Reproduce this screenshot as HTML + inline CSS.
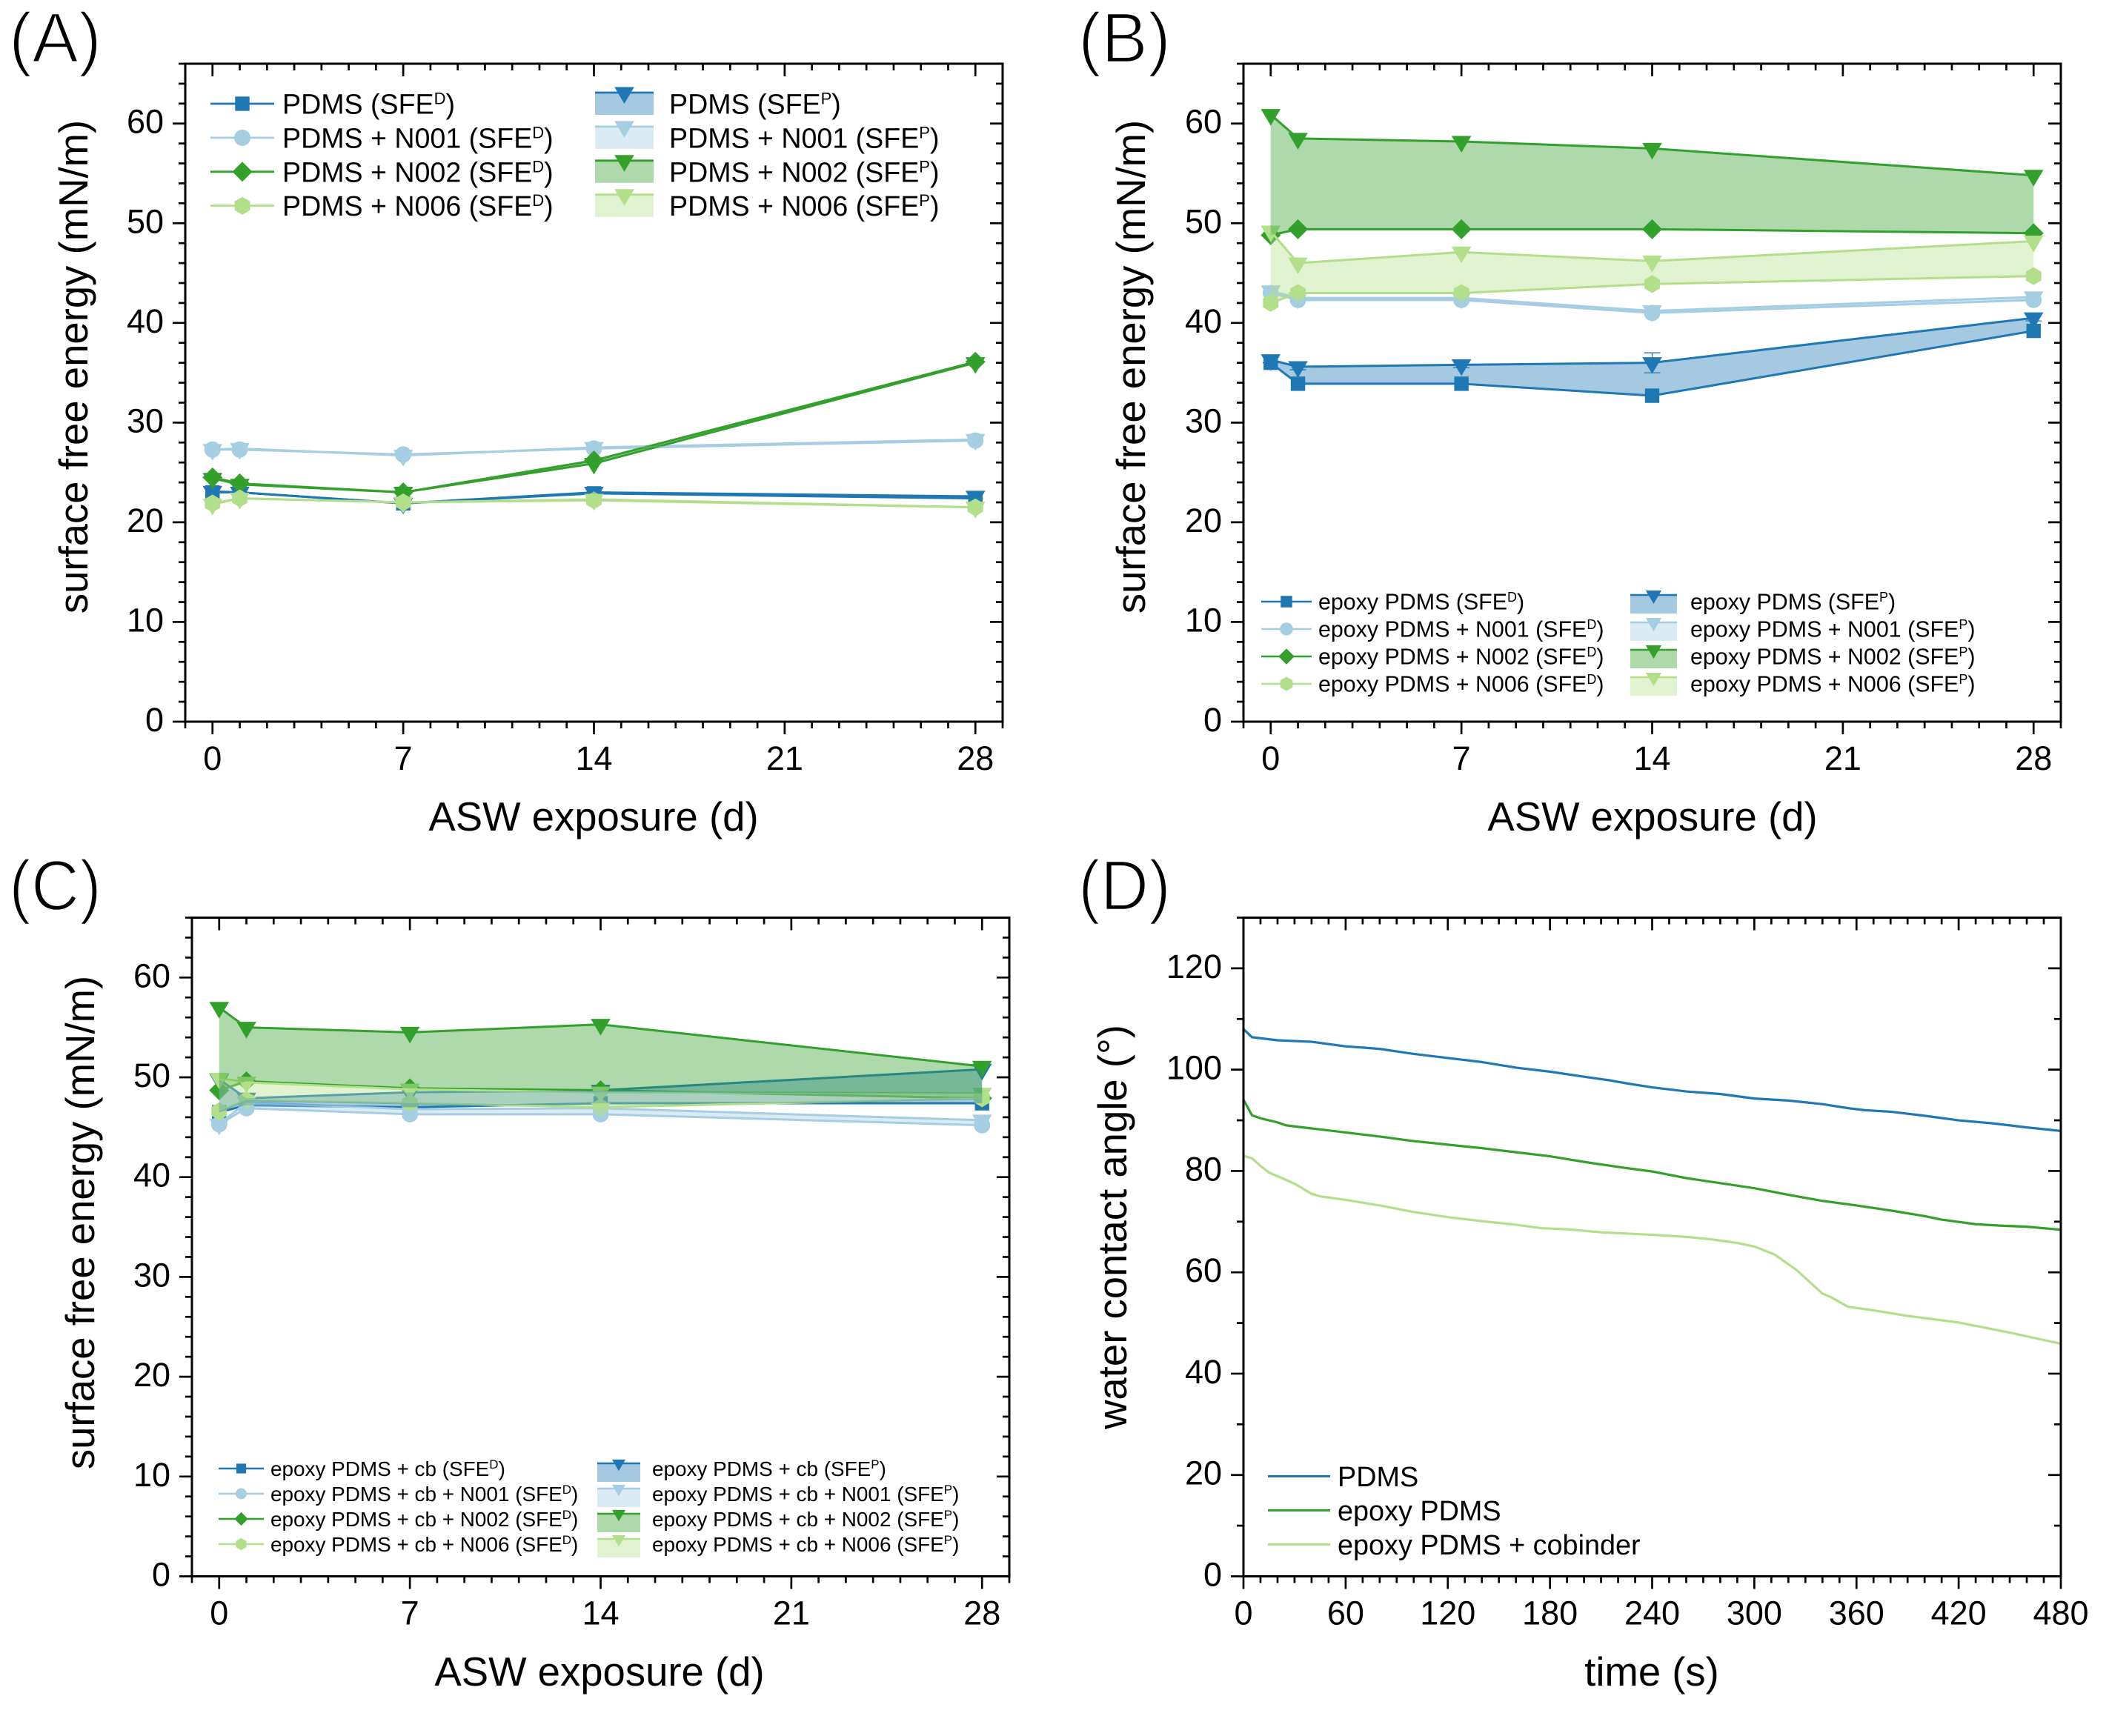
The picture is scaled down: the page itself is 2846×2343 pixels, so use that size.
<!DOCTYPE html>
<html lang="en">
<head>
<meta charset="utf-8">
<title>Surface free energy and water contact angle</title>
<style>
html,body{margin:0;padding:0;background:#fff}
svg{display:block}
text{font-family:"Liberation Sans",Arial,sans-serif;fill:#000}
.panel-letter{font-size:96px;stroke:#fff;stroke-width:2.4px}
.axis-title{font-size:54.5px;text-anchor:middle}
.tick{font-size:45px}
.la{font-size:37.6px}
.lb{font-size:30.4px}
.lc{font-size:27.9px}
.ld{font-size:37.8px}
</style>
</head>
<body>
<svg id="figure" xmlns="http://www.w3.org/2000/svg" width="2846" height="2343" viewBox="0 0 2846 2343">
<rect x="0" y="0" width="2846" height="2343" fill="#fff"/>
<g id="plots"></g>

<text class="panel-letter" x="12" y="84" textLength="125" lengthAdjust="spacingAndGlyphs">(A)</text>
<text class="panel-letter" x="1455" y="84" textLength="125" lengthAdjust="spacingAndGlyphs">(B)</text>
<text class="panel-letter" x="12" y="1228" textLength="125" lengthAdjust="spacingAndGlyphs">(C)</text>
<text class="panel-letter" x="1455" y="1228" textLength="125" lengthAdjust="spacingAndGlyphs">(D)</text>

<text class="axis-title" x="801" y="1121">ASW exposure (d)</text>
<text class="axis-title" x="2230" y="1121">ASW exposure (d)</text>
<text class="axis-title" x="809" y="2275">ASW exposure (d)</text>
<text class="axis-title" x="2229" y="2275">time (s)</text>
<text class="axis-title" transform="translate(118,495) rotate(-90)">surface free energy (mN/m)</text>
<text class="axis-title" transform="translate(1545,495) rotate(-90)">surface free energy (mN/m)</text>
<text class="axis-title" transform="translate(127,1650) rotate(-90)">surface free energy (mN/m)</text>
<text class="axis-title" transform="translate(1520,1656) rotate(-90)">water contact angle (°)</text>

<g>
<text class="la" x="381" y="153.5">PDMS (SFE<tspan dy="-13" font-size="22">D</tspan><tspan dy="13">)</tspan></text>
<text class="la" x="381" y="199.4">PDMS + N001 (SFE<tspan dy="-13" font-size="22">D</tspan><tspan dy="13">)</tspan></text>
<text class="la" x="381" y="245.3">PDMS + N002 (SFE<tspan dy="-13" font-size="22">D</tspan><tspan dy="13">)</tspan></text>
<text class="la" x="381" y="291.2">PDMS + N006 (SFE<tspan dy="-13" font-size="22">D</tspan><tspan dy="13">)</tspan></text>
<text class="la" x="903" y="153.5">PDMS (SFE<tspan dy="-13" font-size="22">P</tspan><tspan dy="13">)</tspan></text>
<text class="la" x="903" y="199.4">PDMS + N001 (SFE<tspan dy="-13" font-size="22">P</tspan><tspan dy="13">)</tspan></text>
<text class="la" x="903" y="245.3">PDMS + N002 (SFE<tspan dy="-13" font-size="22">P</tspan><tspan dy="13">)</tspan></text>
<text class="la" x="903" y="291.2">PDMS + N006 (SFE<tspan dy="-13" font-size="22">P</tspan><tspan dy="13">)</tspan></text>
</g>

<g>
<text class="lb" x="1779" y="822.5">epoxy PDMS (SFE<tspan dy="-10.5" font-size="18">D</tspan><tspan dy="10.5">)</tspan></text>
<text class="lb" x="1779" y="859.5">epoxy PDMS + N001 (SFE<tspan dy="-10.5" font-size="18">D</tspan><tspan dy="10.5">)</tspan></text>
<text class="lb" x="1779" y="896.5">epoxy PDMS + N002 (SFE<tspan dy="-10.5" font-size="18">D</tspan><tspan dy="10.5">)</tspan></text>
<text class="lb" x="1779" y="933.5">epoxy PDMS + N006 (SFE<tspan dy="-10.5" font-size="18">D</tspan><tspan dy="10.5">)</tspan></text>
<text class="lb" x="2281" y="822.5">epoxy PDMS (SFE<tspan dy="-10.5" font-size="18">P</tspan><tspan dy="10.5">)</tspan></text>
<text class="lb" x="2281" y="859.5">epoxy PDMS + N001 (SFE<tspan dy="-10.5" font-size="18">P</tspan><tspan dy="10.5">)</tspan></text>
<text class="lb" x="2281" y="896.5">epoxy PDMS + N002 (SFE<tspan dy="-10.5" font-size="18">P</tspan><tspan dy="10.5">)</tspan></text>
<text class="lb" x="2281" y="933.5">epoxy PDMS + N006 (SFE<tspan dy="-10.5" font-size="18">P</tspan><tspan dy="10.5">)</tspan></text>
</g>

<g>
<text class="lc" x="365" y="1992">epoxy PDMS + cb (SFE<tspan dy="-10" font-size="17">D</tspan><tspan dy="10">)</tspan></text>
<text class="lc" x="365" y="2026">epoxy PDMS + cb + N001 (SFE<tspan dy="-10" font-size="17">D</tspan><tspan dy="10">)</tspan></text>
<text class="lc" x="365" y="2060">epoxy PDMS + cb + N002 (SFE<tspan dy="-10" font-size="17">D</tspan><tspan dy="10">)</tspan></text>
<text class="lc" x="365" y="2094">epoxy PDMS + cb + N006 (SFE<tspan dy="-10" font-size="17">D</tspan><tspan dy="10">)</tspan></text>
<text class="lc" x="880" y="1992">epoxy PDMS + cb (SFE<tspan dy="-10" font-size="17">P</tspan><tspan dy="10">)</tspan></text>
<text class="lc" x="880" y="2026">epoxy PDMS + cb + N001 (SFE<tspan dy="-10" font-size="17">P</tspan><tspan dy="10">)</tspan></text>
<text class="lc" x="880" y="2060">epoxy PDMS + cb + N002 (SFE<tspan dy="-10" font-size="17">P</tspan><tspan dy="10">)</tspan></text>
<text class="lc" x="880" y="2094">epoxy PDMS + cb + N006 (SFE<tspan dy="-10" font-size="17">P</tspan><tspan dy="10">)</tspan></text>
</g>

<g>
<text class="ld" x="1805" y="2006">PDMS</text>
<text class="ld" x="1805" y="2052">epoxy PDMS</text>
<text class="ld" x="1805" y="2098">epoxy PDMS + cobinder</text>
</g>
</svg>

<script>
// ---------- chart data ----------
const days = [0, 1, 7, 14, 28];
const exposureTicks = [0, 7, 14, 21, 28];
const sfeTicks = [0, 10, 20, 30, 40, 50, 60];
const timeTicks = [0, 60, 120, 180, 240, 300, 360, 420, 480];
const angleTicks = [0, 20, 40, 60, 80, 100, 120];

const aPdmsD = [23.0, 23.0, 21.9, 22.9, 22.4];
const aPdmsP = [23.1, 23.0, 21.9, 23.0, 22.6];
const aN001D = [27.3, 27.3, 26.8, 27.4, 28.2];
const aN001P = [27.3, 27.4, 26.7, 27.5, 28.3];
const aN002D = [24.5, 23.9, 23.0, 26.2, 36.1];
const aN002P = [24.4, 23.8, 23.0, 25.9, 36.0];
const aN006D = [21.9, 22.4, 22.0, 22.2, 21.5];
const aN006P = [21.8, 22.4, 22.0, 22.3, 21.5];

const bPdmsD = [36.0, 33.9, 33.9, 32.7, 39.2];
const bPdmsP = [36.3, 35.6, 35.8, 36.0, 40.5];
const bPdmsPErr = [0.3, 0.3, 0.3, 1.0, 0.3];
const bN001D = [43.0, 42.3, 42.3, 41.0, 42.3];
const bN001P = [43.2, 42.5, 42.5, 41.2, 42.6];
const bN002D = [48.8, 49.4, 49.4, 49.4, 49.0];
const bN002P = [60.9, 58.5, 58.2, 57.5, 54.8];
const bN006D = [42.0, 43.0, 43.0, 43.9, 44.7];
const bN006P = [49.2, 46.0, 47.1, 46.2, 48.2];

const cPdmsD = [46.5, 47.2, 47.0, 47.4, 47.4];
const cPdmsP = [49.8, 47.9, 48.5, 48.7, 50.8];
const cN001D = [45.3, 46.9, 46.3, 46.3, 45.2];
const cN001P = [45.3, 47.5, 46.8, 46.9, 45.7];
const cN002D = [48.7, 49.6, 48.9, 48.7, 47.9];
const cN002P = [57.0, 55.0, 54.5, 55.3, 51.1];
const cN006D = [46.6, 47.7, 47.4, 47.0, 47.9];
const cN006P = [49.9, 49.5, 48.8, 48.5, 48.4];

const pdmsTime = [0, 5, 20, 40, 60, 80, 100, 120, 140, 160, 180, 200, 215, 225, 240, 260, 280, 300, 320, 340, 355, 365, 380, 400, 420, 440, 460, 480];
const pdmsAngle = [108, 106.4, 105.8, 105.5, 104.6, 104.1, 103.1, 102.3, 101.5, 100.4, 99.6, 98.6, 97.9, 97.3, 96.5, 95.7, 95.2, 94.3, 93.9, 93.2, 92.4, 92, 91.7, 90.9, 90, 89.4, 88.6, 87.9];
const epoxyTime = [0, 5, 10, 20, 25, 40, 60, 80, 100, 120, 140, 160, 180, 200, 220, 240, 260, 280, 300, 320, 340, 360, 380, 400, 410, 430, 445, 460, 480];
const epoxyAngle = [94.1, 91, 90.4, 89.6, 89, 88.4, 87.6, 86.8, 85.9, 85.2, 84.5, 83.7, 82.9, 81.8, 80.8, 79.9, 78.6, 77.6, 76.6, 75.3, 74.1, 73.2, 72.2, 71.1, 70.4, 69.5, 69.2, 69, 68.4];
const cobinderTime = [0, 5, 10, 15, 30, 40, 45, 60, 80, 100, 120, 140, 160, 175, 190, 210, 240, 260, 275, 290, 300, 312, 325, 340, 345, 355, 370, 390, 420, 450, 480];
const cobinderAngle = [83, 82.5, 81, 79.7, 77.5, 75.5, 75, 74.3, 73.2, 71.9, 70.9, 70.1, 69.4, 68.7, 68.5, 67.9, 67.4, 67, 66.5, 65.8, 65.1, 63.5, 60.4, 55.8, 55.1, 53.2, 52.5, 51.4, 50.1, 48.1, 45.9];

// ---------- drawing ----------
const SVGNS = 'http://www.w3.org/2000/svg';
const BLUE = '#1f78b4', LBLUE = '#a6cee3', GREEN = '#33a02c', LGREEN = '#b2df8a';
const palette = [BLUE, LBLUE, GREEN, LGREEN];
const shapes = ['square', 'circle', 'diamond', 'hexagon'];
const seriesKeys = ['base', 'n001', 'n002', 'n006'];
const root = document.getElementById('plots');

function mk(tag, parent, attrs) {
  const el = document.createElementNS(SVGNS, tag);
  for (const k in attrs) el.setAttribute(k, attrs[k]);
  parent.appendChild(el);
  return el;
}

function markerShape(parent, shape, cx, cy, s, color) {
  if (shape === 'square') {
    return mk('rect', parent, {x: cx - 9.7 * s, y: cy - 9.7 * s, width: 19.4 * s, height: 19.4 * s, fill: color});
  }
  if (shape === 'circle') {
    return mk('circle', parent, {cx: cx, cy: cy, r: 11 * s, fill: color});
  }
  let pts;
  if (shape === 'diamond') {
    pts = [[0, -13.5], [13.5, 0], [0, 13.5], [-13.5, 0]];
  } else if (shape === 'hexagon') {
    pts = [[0, -12], [10.4, -6], [10.4, 6], [0, 12], [-10.4, 6], [-10.4, -6]];
  } else {
    pts = [[-13.3, -7.5], [13.3, -7.5], [0, 15]];
  }
  return mk('polygon', parent, {points: pts.map(p => (cx + p[0] * s) + ',' + (cy + p[1] * s)).join(' '), fill: color});
}

function drawAxes(g, frame, xDom, yDom, xTicks, yTicks, xMinorStep, yMinorStep, sx, sy, id) {
  const tickGroup = mk('g', g, {stroke: '#000', 'stroke-width': 2.7, fill: 'none'});
  
  
  const L = frame.left, R = frame.right, T = frame.top, B = frame.bottom;
  const MAJ = 17, MIN = 9;
  for (let v = xDom[0]; v <= xDom[1] + 1e-6; v += xMinorStep) {
    const x = sx(v);
    const len = xTicks.includes(v) ? MAJ : MIN;
    const a = mk('line', tickGroup, {x1: x, x2: x, y1: B, y2: B + len});
    
    
    const b = mk('line', tickGroup, {x1: x, x2: x, y1: T, y2: T + len});
    
    
  }
  for (let v = yDom[0]; v <= yDom[1] + 1e-6; v += yMinorStep) {
    const y = sy(v);
    const len = yTicks.includes(v) ? MAJ : MIN;
    const a = mk('line', tickGroup, {x1: L - len, x2: L, y1: y, y2: y});
    
    
    const b = mk('line', tickGroup, {x1: R - len, x2: R, y1: y, y2: y});
    
    
  }
  const box = mk('rect', g, {x: L, y: T, width: R - L, height: B - T, fill: 'none', stroke: '#000', 'stroke-width': 3});
  
  
  xTicks.forEach(function (v) {
    const t = mk('text', g, {x: sx(v), y: B + 65, 'text-anchor': 'middle', class: 'tick'});
    t.textContent = String(v);
    
    
  });
  yTicks.forEach(function (v) {
    const t = mk('text', g, {x: L - 29, y: sy(v) + 13, 'text-anchor': 'end', class: 'tick'});
    t.textContent = String(v);
    
    
  });
}

function drawSfePanel(id, frame, groups, lg) {
  const g = mk('g', root, {});
  
  
  const xDom = [-1, 29], yDom = [0, 66];
  const sx = v => frame.left + (v - xDom[0]) / (xDom[1] - xDom[0]) * (frame.right - frame.left);
  const sy = v => frame.bottom - (v - yDom[0]) / (yDom[1] - yDom[0]) * (frame.bottom - frame.top);
  const fills = [];

  groups.forEach(function (pair, i) {
    const color = palette[i];
    [[pair.d, shapes[i], 'dispersive'], [pair.p, 'triangle', 'polar']].forEach(function (item) {
      const vals = item[0];
      const line = mk('polyline', g, {points: days.map((d, k) => sx(d) + ',' + sy(vals[k])).join(' '), fill: 'none', stroke: color, 'stroke-width': 3, 'stroke-linejoin': 'round'});
      
      
      days.forEach(function (d, k) {
        const m = markerShape(g, item[1], sx(d), sy(vals[k]), 1, color);
        
        
      });
    });
    if (pair.err) {
      days.forEach(function (d, k) {
        const x = sx(d), y1 = sy(pair.p[k] - pair.err[k]), y2 = sy(pair.p[k] + pair.err[k]);
        const eb = mk('path', g, {d: 'M' + x + ' ' + y1 + 'V' + y2 + 'M' + (x - 11) + ' ' + y2 + 'H' + (x + 11) + 'M' + (x - 11) + ' ' + y1 + 'H' + (x + 11), stroke: color, 'stroke-width': 1.3, fill: 'none'});
        
        
      });
    }
    fills.push(days.map((d, k) => sx(d) + ',' + sy(pair.p[k])).concat(days.slice().reverse().map((d, k) => sx(d) + ',' + sy(pair.d[days.length - 1 - k]))).join(' '));
  });

  fills.forEach(function (pts, i) {
    const band = mk('polygon', g, {points: pts, fill: palette[i], 'fill-opacity': 0.4});
    
    
  });

  drawAxes(g, frame, xDom, yDom, exposureTicks, sfeTicks, 1, 2, sx, sy, id);

  const lgGroup = mk('g', g, {});
  
  
  for (let i = 0; i < 4; i++) {
    const color = palette[i];
    const y = lg.y + i * lg.dy;
    const l1 = mk('line', lgGroup, {x1: lg.lx1, x2: lg.lx2, y1: y, y2: y, stroke: color, 'stroke-width': lg.sw});
    
    
    const m1 = markerShape(lgGroup, shapes[i], (lg.lx1 + lg.lx2) / 2, y, lg.s, color);
    
    
    const py = lg.py + i * lg.dy;
    const patch = mk('rect', lgGroup, {x: lg.px1, y: py, width: lg.px2 - lg.px1, height: lg.ph, fill: color, 'fill-opacity': 0.4});
    
    
    const l2 = mk('line', lgGroup, {x1: lg.px1, x2: lg.px2, y1: py, y2: py, stroke: color, 'stroke-width': lg.sw});
    
    
    const m2 = markerShape(lgGroup, 'triangle', (lg.px1 + lg.px2) / 2, py, lg.s, color);
    
    
  }
}

drawSfePanel('a', {left: 250, right: 1353, top: 86, bottom: 974}, [
  {d: aPdmsD, p: aPdmsP}, {d: aN001D, p: aN001P}, {d: aN002D, p: aN002P}, {d: aN006D, p: aN006P}
], {y: 140, dy: 45.9, lx1: 284, lx2: 370, px1: 803, px2: 882, py: 125, ph: 30, s: 1, sw: 2.8});

drawSfePanel('b', {left: 1678, right: 2781, top: 86, bottom: 974}, [
  {d: bPdmsD, p: bPdmsP, err: bPdmsPErr}, {d: bN001D, p: bN001P}, {d: bN002D, p: bN002P}, {d: bN006D, p: bN006P}
], {y: 812, dy: 37, lx1: 1702, lx2: 1770, px1: 2200, px2: 2263, py: 803, ph: 25, s: 0.8, sw: 2.5});

drawSfePanel('c', {left: 259, right: 1362, top: 1238.5, bottom: 2127.5}, [
  {d: cPdmsD, p: cPdmsP}, {d: cN001D, p: cN001P}, {d: cN002D, p: cN002P}, {d: cN006D, p: cN006P}
], {y: 1982, dy: 34, lx1: 295, lx2: 356, px1: 806, px2: 864, py: 1975, ph: 25, s: 0.68, sw: 2.4});

(function drawAnglePanel() {
  const frame = {left: 1678, right: 2781, top: 1238.5, bottom: 2127.5};
  const g = mk('g', root, {});
  
  
  const xDom = [0, 480], yDom = [0, 130];
  const sx = v => frame.left + (v - xDom[0]) / (xDom[1] - xDom[0]) * (frame.right - frame.left);
  const sy = v => frame.bottom - (v - yDom[0]) / (yDom[1] - yDom[0]) * (frame.bottom - frame.top);
  [[pdmsTime, pdmsAngle, BLUE, 'pdms'], [epoxyTime, epoxyAngle, GREEN, 'epoxy-pdms'], [cobinderTime, cobinderAngle, LGREEN, 'epoxy-pdms-cobinder']].forEach(function (s, i) {
    const line = mk('polyline', g, {points: s[0].map((t, k) => sx(t) + ',' + sy(s[1][k])).join(' '), fill: 'none', stroke: s[2], 'stroke-width': 3.2, 'stroke-linejoin': 'round'});
    
    
    const y = 1992.5 + i * 46;
    const key = mk('line', g, {x1: 1711, x2: 1795, y1: y, y2: y, stroke: s[2], 'stroke-width': 3});
    
    
  });
  drawAxes(g, frame, xDom, yDom, timeTicks, angleTicks, 10, 10, sx, sy, 'd');
})();
</script>
</body>
</html>
